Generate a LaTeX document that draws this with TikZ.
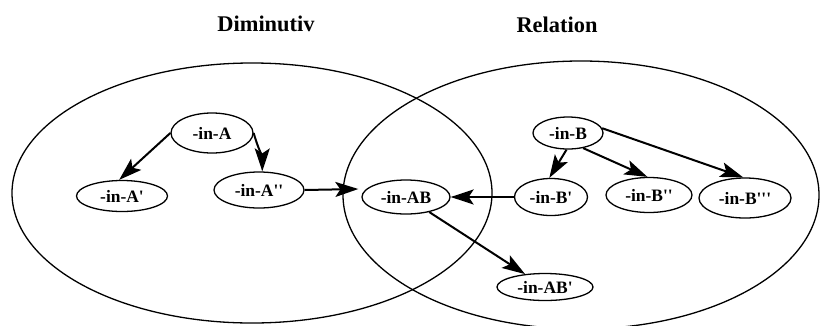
\documentclass[tikz,border=0pt]{standalone}
\usepackage{fontspec}
\setmainfont{Liberation Serif}[Ligatures=TeXOff]
\usetikzlibrary{arrows.meta,shapes.geometric}
\tikzset{
  big/.style={line width=1.3bp},
  nd/.style={draw, ellipse, line width=1.3bp, inner sep=0pt,
    font=\bfseries\fontsize{17.5}{18}\selectfont},
  title/.style={font=\bfseries\fontsize{22.5}{24}\selectfont},
  arr/.style={line width=2bp, -{Stealth[length=23bp,width=15bp,inset=5bp]}}
}
\begin{document}
\begin{tikzpicture}[x=1bp,y=-1bp]
\useasboundingbox (0,0) rectangle (821,325);
\draw[big] (252,193) ellipse [x radius=240bp, y radius=130bp];
\draw[big] (581,195) ellipse [x radius=238bp, y radius=134bp];
\node[title] (t1) at (266,24) {Diminutiv};
\node[title] (t2) at (557,25) {Relation};
\node[nd, minimum width=82bp, minimum height=40bp] (A) at (212,133) {-in-A};
\node[nd, minimum width=91bp, minimum height=31bp] (A1) at (122,196) {-in-A'};
\node[nd, minimum width=90bp, minimum height=36bp] (A2) at (259,190) {-in-A''};
\node[nd, minimum width=88bp, minimum height=34bp] (AB) at (406,197) {-in-AB};
\node[nd, minimum width=96bp, minimum height=27bp] (ABp) at (545,287) {-in-AB'};
\node[nd, minimum width=70bp, minimum height=32bp] (B) at (568,133) {-in-B};
\node[nd, minimum width=73bp, minimum height=37bp] (B1) at (551,197) {-in-B'};
\node[nd, minimum width=86bp, minimum height=35bp] (B2) at (649,195) {-in-B''};
\node[nd, minimum width=92bp, minimum height=40bp] (B3) at (745,198) {-in-B'''};
\coordinate (abin) at ([xshift=-3bp,yshift=1bp]AB.west |- A2.east);
\draw[arr] (A.west) -- (A1.100);
\draw[arr] (A.east) .. controls +(4,14) and +(0,-14) .. (A2.80);
\draw[arr] (A2.east) -- (abin);
\draw[arr] (B1.west) -- (AB.east);
\draw[arr] (AB) -- (ABp);
\draw[arr] (B.-95) -- (B1.95);
\draw[arr] (B.-45) -- (B2.95);
\draw[arr] (B.8) -- (B3.95);
\end{tikzpicture}
\end{document}
